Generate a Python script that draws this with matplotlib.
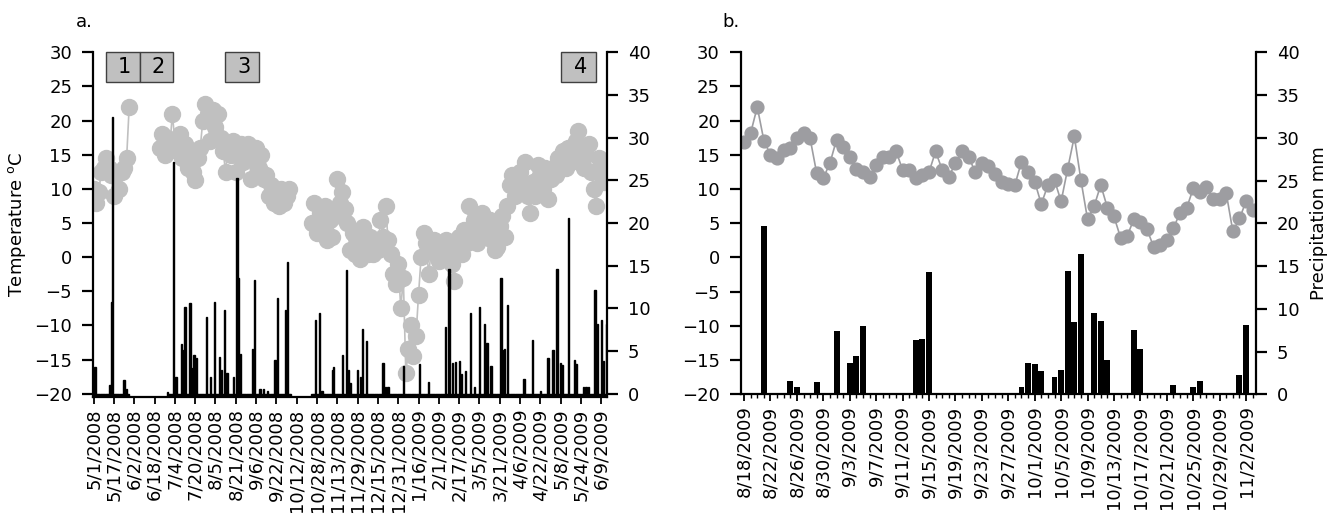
import numpy as np
import pandas as pd
import matplotlib
matplotlib.use("Agg")
import matplotlib.pyplot as plt
from matplotlib.patches import Rectangle

plt.rcParams['font.family'] = ['DejaVu Sans']
plt.rcParams['font.size'] = 13

# ---------------- panel a: 5/1/2008 - 6/2009, one category per recorded day
a_ndays = 405
a_labels = ['5/1/2008', '5/17/2008', '6/2/2008', '6/18/2008', '7/4/2008', '7/20/2008',
            '8/5/2008', '8/21/2008', '9/6/2008', '9/22/2008', '10/12/2008', '10/28/2008',
            '11/13/2008', '11/29/2008', '12/15/2008', '12/31/2008', '1/16/2009', '2/1/2009',
            '2/17/2009', '3/5/2009', '3/21/2009', '4/6/2009', '4/22/2009', '5/8/2009',
            '5/24/2009', '6/9/2009']
a_label_every = 16

# air temperature (deg C), read every second day, three recorded stretches
a_temp_start = [0, 52, 172]
a_temp_step = 2
a_temp = [
    [10, 8, 9.5, 12.5, 13, 14.5, 13, 12, 9, 12, 10, 12.5, 13, 14.5, 22],
    [16, 18, 15, 17.5, 16, 21, 17, 15.5, 18, 14.5,
     16.5, 13, 15.5, 12.5, 11.3, 14.5, 16, 20, 22.5, 21,
     17, 21.5, 19, 21, 17.5, 15.5, 12.5, 16.5, 15, 17,
     12.5, 15, 16.5, 14, 15.5, 16.5, 11.5, 14.5, 16, 13,
     15, 11.5, 12, 9, 10.5, 8, 9.5, 7.5, 10, 8,
     9, 10],
    [5, 8, 3.5, 6.5, 4, 7.5, 2.5, 5.5, 3, 6,
     11.5, 8, 9.5, 7, 5, 1, 3.5, 0.5, 2, -0.3,
     4.4, 1.5, 0.5, 3, 0.5, 2, 1, 5.5, 3, 7.5,
     2.5, 0.5, -2.5, -4, -1, -7.5, -3, -17, -13.5, -10,
     -14.5, -11.5, -5.5, 0, 3.5, 2, -2.5, 1, 2.5, 0.5,
     -0.5, 1.5, 0, 2.5, 1, -1, -3.5, 1.5, 3, 0.5,
     4, 2, 7.5, 3.5, 5.5, 2, 4.5, 6.5, 3, 4,
     5.5, 2.5, 1, 1.5, 4.5, 6, 3, 7.5, 10.5, 12,
     9, 11, 12.5, 10, 14, 9, 6.5, 11, 9, 13.5,
     12, 10, 13, 8.5, 11.5, 13, 12, 14.5, 13, 15.5,
     13, 16, 14, 15, 17, 18.5, 16, 13, 15, 16.5,
     12.5, 10, 7.5, 14.5, 12, 11, 13],
]

# precipitation (mm): days with a gauge record, and the days with rain
a_rain_records = [(0, 27), (58, 155), (172, 404)]
a_rain = {1: 3.1, 13: 1.0, 14: 10.7, 15: 32.4, 24: 1.6, 26: 0.6, 58: 0.2, 63: 27.2,
          65: 2.0, 69: 5.8, 70: 5.1, 72: 10.2, 76: 10.6, 78: 3.0, 79: 4.5, 81: 4.2,
          89: 9.0, 92: 2.0, 95: 10.7, 99: 4.3, 101: 2.8, 103: 9.8, 105: 2.4, 110: 2.0,
          113: 25.3, 114: 13.6, 116: 4.7, 125: 5.2, 127: 13.3, 131: 0.6, 134: 0.5,
          137: 0.3, 143: 3.9, 145: 11.2, 151: 9.8, 153: 15.4, 175: 8.6, 178: 9.4,
          180: 0.3, 188: 2.8, 189: 3.1, 196: 4.5, 199: 14.5, 201: 2.8, 202: 1.2,
          208: 2.8, 210: 2.0, 212: 7.6, 215: 6.2, 228: 3.6, 230: 0.8, 232: 0.8,
          244: 3.2, 257: 3.5, 264: 1.4, 277: 7.8, 280: 14.6, 283: 3.6, 285: 3.7,
          288: 3.8, 290: 2.3, 293: 2.7, 297: 9.4, 300: 0.8, 304: 10.2, 308: 8.2,
          310: 5.9, 313: 3.2, 321: 13.6, 323: 5.1, 324: 5.2, 326: 10.4, 339: 1.7,
          346: 6.3, 352: 0.3, 358: 4.2, 362: 5.1, 365: 14.6, 368: 3.6, 369: 3.3,
          374: 20.6, 379: 4.0, 380: 3.5, 386: 0.8, 388: 0.8, 390: 0.8, 395: 12.2,
          397: 8.2, 400: 8.6, 402: 3.8, 404: 8.2}

# sampling periods shown as boxes (label, first day, last day)
periods = [('1', 10, 36), ('2', 37, 62), ('3', 104, 130), ('4', 369, 395)]

# ---------------- panel b: 8/18/2009 - 11/3/2009, daily
b_dates = pd.date_range('2009-08-18', '2009-11-03', freq='D')
b_label_every = 4
b_temp = [16.9, 18.2, 22.0, 17.1, 15.0, 14.5, 15.7, 16.0, 17.4, 18.2,
          17.4, 12.3, 11.6, 13.8, 17.2, 16.2, 14.7, 13.0, 12.5, 11.8,
          13.5, 14.7, 14.7, 15.6, 12.8, 12.8, 11.6, 12.1, 12.5, 15.5,
          12.8, 11.8, 13.8, 15.5, 14.7, 12.5, 13.8, 13.4, 12.2, 11.1,
          10.8, 10.6, 14.0, 12.5, 11.1, 7.8, 10.6, 11.3, 8.2, 13.0,
          17.7, 11.3, 5.6, 7.5, 10.6, 7.3, 6.0, 2.9, 3.1, 5.6,
          5.2, 4.1, 1.6, 1.8, 2.6, 4.3, 6.5, 7.2, 10.1, 9.6,
          10.3, 8.6, 8.6, 9.4, 3.8, 5.7, 8.2, 6.9]
b_rain = {3: 19.7, 7: 1.6, 8: 0.9, 11: 1.4, 14: 7.4, 16: 3.7, 17: 4.5, 18: 8.0,
          19: 0.1, 26: 6.4, 27: 6.5, 28: 14.3, 29: 0.1, 36: 0.1, 42: 0.8, 43: 3.7,
          44: 3.5, 45: 2.7, 47: 2.0, 48: 2.8, 49: 14.4, 50: 8.5, 51: 16.4, 53: 9.5,
          54: 8.6, 55: 4.0, 59: 7.5, 60: 5.3, 61: 0.1, 63: 0.1, 65: 1.1, 68: 0.9,
          69: 1.5, 70: 0.2, 75: 2.3, 76: 8.1}

SPINE = 1.6


def style(ax, ax2):
    for s in ['top', 'right']:
        ax.spines[s].set_visible(False)
    for s in ['top', 'left', 'bottom']:
        ax2.spines[s].set_visible(False)
    ax.spines['left'].set_linewidth(SPINE)
    ax.spines['bottom'].set_linewidth(SPINE)
    ax2.spines['right'].set_linewidth(SPINE)
    ax.tick_params(axis='y', direction='out', length=8, width=SPINE, pad=7)
    ax2.tick_params(axis='y', direction='out', length=8, width=SPINE, pad=7)
    ax.tick_params(axis='x', which='major', direction='out', length=5, width=1.3,
                   pad=3, labelrotation=90)
    ax.set_yticks(np.arange(-20, 31, 5))
    ax2.set_yticks(np.arange(0, 41, 5))


fig = plt.figure(figsize=(13.4, 5.15), dpi=100)

# ---- panel a
ax = fig.add_axes([0.0694, 0.2282, 0.3836, 0.6702])
ax2 = ax.twinx()
for start, vals in zip(a_temp_start, a_temp):
    days = start + a_temp_step * np.arange(len(vals))
    ax.plot(days, vals, color='#C0C0C0', lw=1.2, marker='o', ms=11.5,
            mfc='#C0C0C0', mec='#C0C0C0', zorder=2)

rain_a = np.full(a_ndays, np.nan)
for s, e in a_rain_records:
    rain_a[s:e + 1] = 0.0
for d, v in a_rain.items():
    rain_a[d] = v
a_bottom = -0.45
ok = ~np.isnan(rain_a)
ax2.bar(np.arange(a_ndays)[ok], rain_a[ok] - a_bottom, bottom=a_bottom, width=1.0,
        color='black', edgecolor='black', lw=1.0)

ax.set_xlim(-0.5, a_ndays - 0.5)
ax.set_ylim(-20.56, 30)
ax2.set_ylim(a_bottom, 40)
ax.set_xticks(np.arange(len(a_labels)) * a_label_every)
ax.set_xticklabels(a_labels)
style(ax, ax2)
ax.set_ylabel(r'Temperature $^\mathregular{o}$C')
ax.yaxis.set_label_coords((28 - 93) / 514, 0.5)

for lab, s, e in periods:
    ax.add_patch(Rectangle((s - 0.5, 25.7), e - s + 1, 4.35, facecolor='#C0C0C0',
                           edgecolor='#404040', lw=1.0, clip_on=False, zorder=5))
    ax.text((s + e) / 2 + 1.5, 27.85, lab, ha='center', va='center', fontsize=15,
            zorder=6)

fig.text(76 / 1340, 1 - 22 / 515, 'a.', ha='left', va='center')

# ---- panel b
bx = fig.add_axes([0.5528, 0.2344, 0.3845, 0.6641])
bx2 = bx.twinx()
nb = len(b_dates)
bx.plot(np.arange(nb), b_temp, color='#9D9DA1', lw=1.2, marker='o', ms=9.2,
        mfc='#9D9DA1', mec='#9D9DA1', zorder=2)
rain_b = np.zeros(nb)
for d, v in b_rain.items():
    rain_b[d] = v
bx2.bar(np.arange(nb), rain_b, width=0.9, color='black')

bx.set_xlim(-0.5, nb - 0.5)
bx.set_ylim(-20, 30)
bx2.set_ylim(0, 40)
bticks = np.arange(0, nb, b_label_every)
bx.set_xticks(bticks)
bx.set_xticklabels([f'{d.month}/{d.day}/{d.year}' for d in b_dates[bticks]])
bx.set_xticks(np.arange(nb), minor=True)
style(bx, bx2)
bx.tick_params(axis='x', which='minor', direction='out', length=3, width=1.0)
bx2.set_ylabel('Precipitation mm')
bx2.yaxis.set_label_coords((1310 - 740.7) / 515.3, 0.5)

fig.text(722 / 1340, 1 - 22 / 515, 'b.', ha='left', va='center')

fig.savefig('out.png', dpi=100)
